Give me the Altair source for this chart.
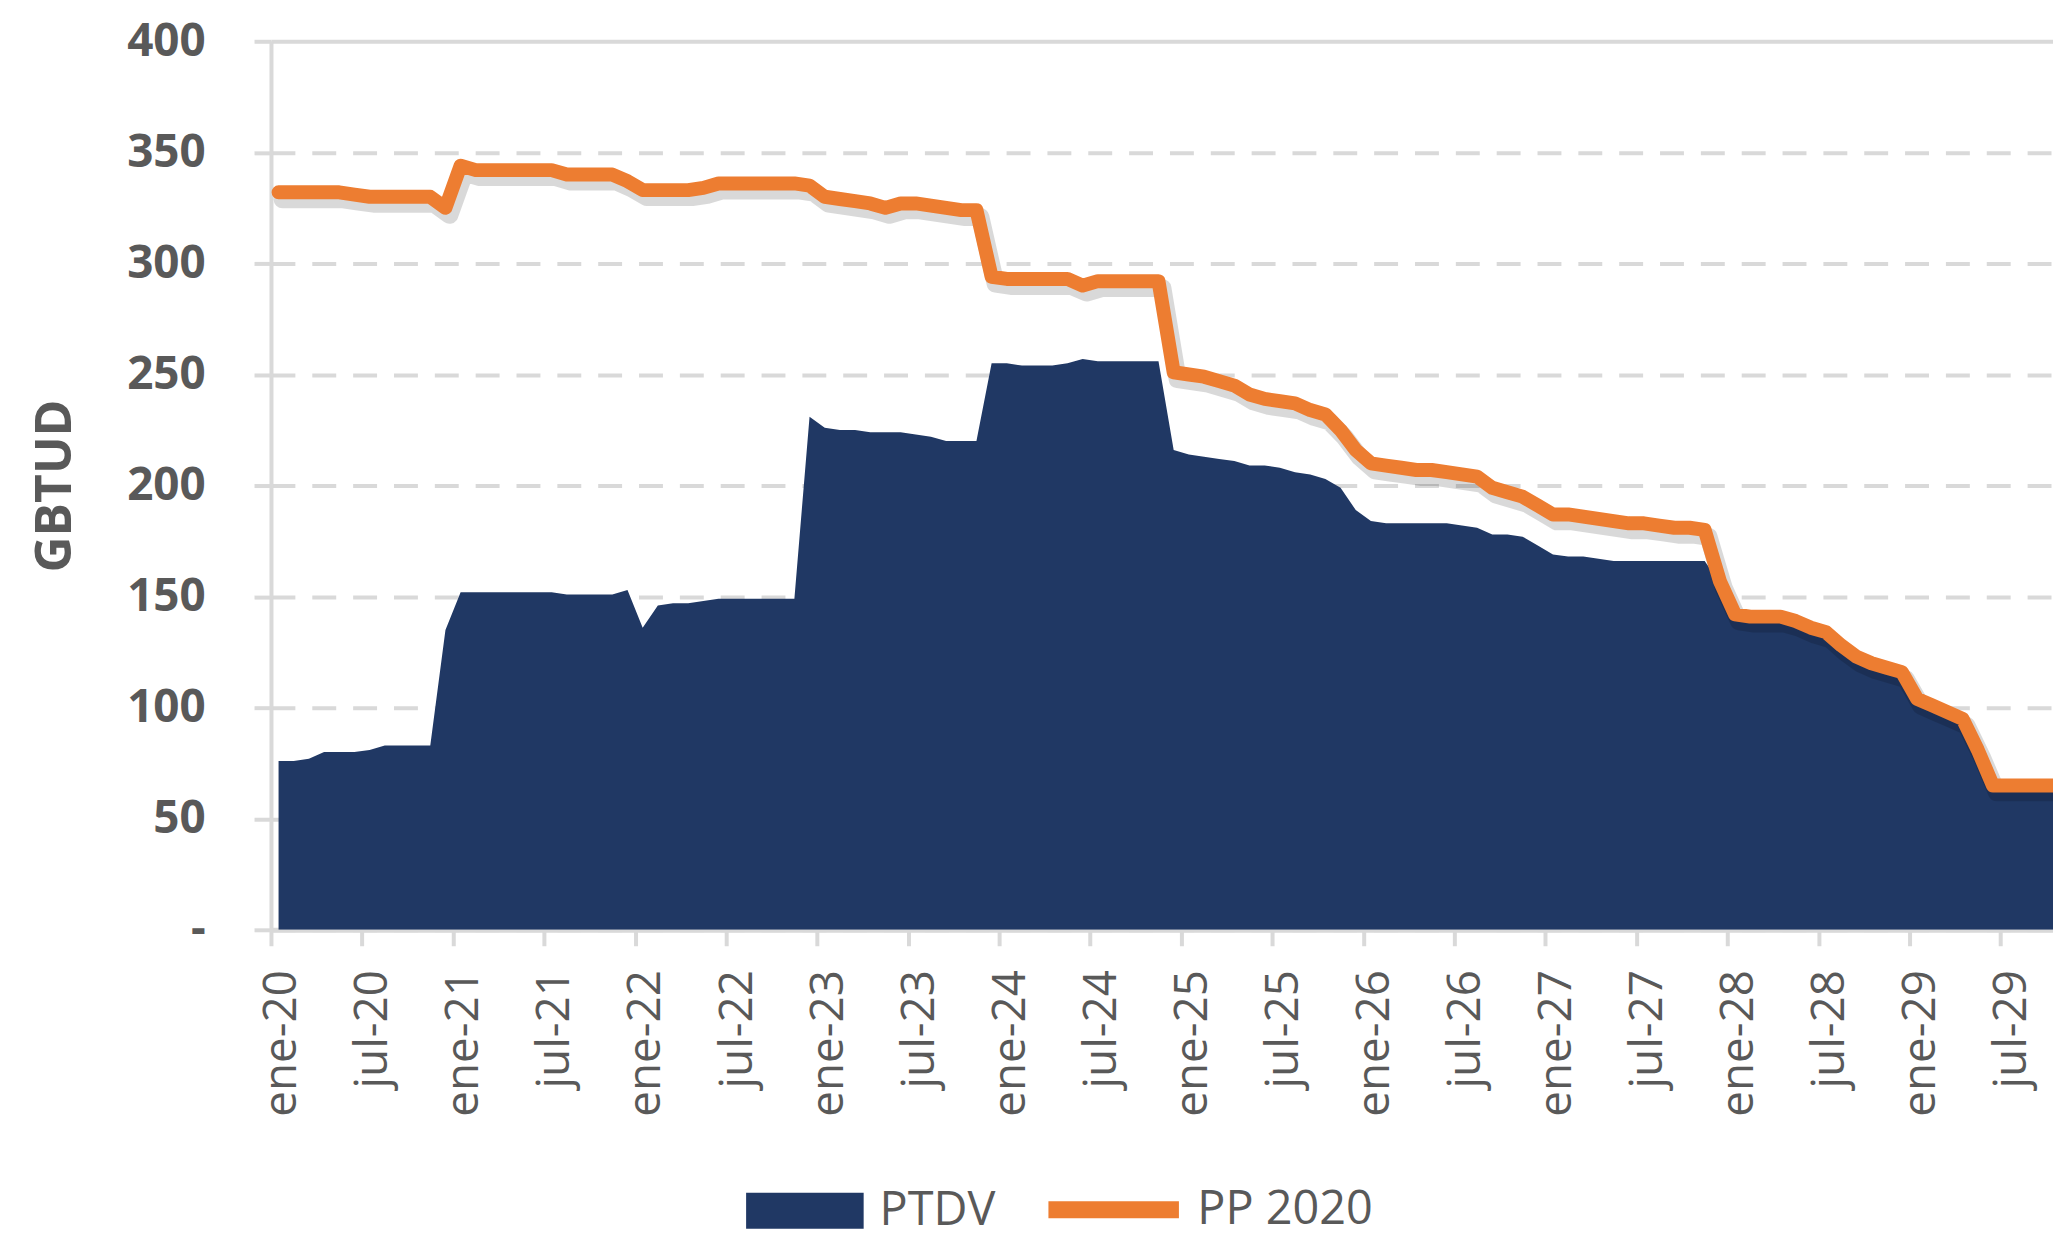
import json
import altair as alt
import pandas as pd

# ---- data (monthly, ene-20 ... oct-29) ----
pp2020 = [332, 332, 332, 332, 332,
          331, 330, 330, 330, 330, 330,
          325, 344,
          342, 342, 342, 342, 342, 342,
          340, 340, 340, 340, 337,
          333, 333, 333, 333, 334,
          336, 336, 336, 336, 336, 336,
          335,
          330, 329, 328, 327, 325, 327, 327, 326, 325, 324, 324,
          294, 293, 293, 293, 293, 293,
          290,
          292, 292, 292, 292, 292,
          251, 250, 249, 247, 245, 241, 239, 238, 237, 234, 232, 225, 216, 210, 209, 208,
          207, 207, 206, 205, 204, 199, 197, 195, 191, 187, 187, 186, 185, 184,
          183, 183, 182, 181, 181, 180,
          157, 142, 141, 141, 141, 139, 136, 134, 128, 123, 120, 118, 116,
          104, 101, 98, 95, 81, 65, 65, 65, 65, 65]

ptdv = [76, 76, 77, 80, 80, 80, 81, 83, 83, 83, 83,
        135, 152,
        152, 152, 152, 152, 152, 152,
        151, 151, 151, 151, 153,
        136, 146, 147, 147, 148,
        149, 149, 149, 149, 149, 149,
        231, 226, 225, 225, 224, 224, 224,
        223, 222, 220, 220, 220,
        255, 255, 254, 254, 254, 255, 257,
        256, 256, 256, 256, 256,
        216, 214, 213, 212, 211, 209, 209, 208, 206, 205, 203, 199, 189, 184,
        183, 183, 183, 183, 183, 182,
        181, 178, 178, 177, 173, 169, 168, 168, 167,
        166, 166, 166, 166, 166, 166, 166,
        156, 141, 140, 140, 140, 138, 135, 133, 127, 122, 119, 117, 115,
        103, 100, 97, 94, 80, 64, 64, 64, 64, 64]

tick_labels = ["ene-20", "jul-20", "ene-21", "jul-21", "ene-22", "jul-22",
               "ene-23", "jul-23", "ene-24", "jul-24", "ene-25", "jul-25",
               "ene-26", "jul-26", "ene-27", "jul-27", "ene-28", "jul-28",
               "ene-29", "jul-29"]
y_ticks = [0, 50, 100, 150, 200, 250, 300, 350, 400]
area_name, line_name = "PTDV", "PP 2020"
area_color, line_color = "#203864", "#ED7D31"

rows = []
for i, v in enumerate(ptdv):
    rows.append({"mes": i, "serie": area_name, "valor": v})
for i, v in enumerate(pp2020):
    rows.append({"mes": i, "serie": line_name, "valor": v})
df = pd.DataFrame(rows)

FONT = "Open Sans"
GRAY = "#595959"
LINEGRAY = "#D9D9D9"

label_expr = json.dumps(tick_labels) + "[round(datum.value/6)]"

x_enc = alt.X(
    "pos:Q",
    scale=alt.Scale(domain=[0, 117.46], nice=False, zero=False),
    axis=alt.Axis(
        values=[i * 6 for i in range(len(tick_labels))],
        labelExpr=label_expr,
        labelAngle=-90,
        labelAlign="right",
        labelBaseline="middle",
        labelOffset=11,
        labelPadding=24,
        labelFont=FONT,
        labelFontSize=46,
        labelColor=GRAY,
        grid=False,
        domainColor=LINEGRAY,
        domainWidth=5,
        tickColor=LINEGRAY,
        tickWidth=4,
        tickSize=16,
        title=None,
    ),
)

y_enc = alt.Y(
    "valor:Q",
    scale=alt.Scale(domain=[0, 400], nice=False),
    axis=alt.Axis(
        values=y_ticks,
        labelExpr="datum.value == 0 ? '-\u00a0\u00a0\u00a0' : datum.label",
        labelFont=FONT,
        labelFontSize=46,
        labelFontWeight="bold",
        labelColor=GRAY,
        labelPadding=49,
        tickSize=17,
        tickColor=LINEGRAY,
        tickWidth=4,
        domainColor=LINEGRAY,
        domainWidth=4,
        grid=True,
        gridColor=LINEGRAY,
        gridWidth=4,
        gridDash={"condition": {"test": "datum.value == 400", "value": []}, "value": [24, 17]},
        title="GBTUD",
        titleFont=FONT,
        titleFontSize=50,
        titleFontWeight="bold",
        titleColor=GRAY,
        titleX=-191,
        titleY=446,
        titleAngle=-90,
    ),
)

fill_enc = alt.Fill(
    "serie:N",
    scale=alt.Scale(domain=[area_name], range=[area_color]),
    legend=alt.Legend(
        title=None, orient="none", direction="horizontal",
        legendX=477, legendY=1115, padding=0,
        labelFont=FONT, labelFontSize=47, labelColor=GRAY, labelOffset=16,
        labelLimit=600,
        symbolType="M-1,-0.305L1,-0.305L1,0.305L-1,0.305Z",
        symbolSize=13924, symbolStrokeWidth=0, symbolOpacity=1,
    ),
)

stroke_enc = alt.Stroke(
    "serie:N",
    scale=alt.Scale(domain=[line_name], range=[line_color]),
    legend=alt.Legend(
        title=None, orient="none", direction="horizontal",
        legendX=772, legendY=1099, padding=0,
        labelFont=FONT, labelFontSize=47, labelColor=GRAY, labelOffset=10,
        labelLimit=600,
        symbolType="stroke", symbolSize=17161, symbolStrokeWidth=17,
        symbolOpacity=1,
    ),
)

base = alt.Chart(df).transform_calculate(pos="datum.mes + 0.5")

area = base.transform_filter(f"datum.serie == '{area_name}'").mark_area(clip=True).encode(
    x=x_enc, y=y_enc, fill=fill_enc
)

shadow = base.transform_filter(f"datum.serie == '{line_name}'").mark_line(
    clip=True, color="#000000", opacity=0.15, strokeWidth=18,
    xOffset=4, yOffset=7, strokeJoin="round", strokeCap="round"
).encode(x=x_enc, y=y_enc)

line = base.transform_filter(f"datum.serie == '{line_name}'").mark_line(
    clip=True, strokeWidth=14, strokeJoin="round", strokeCap="round"
).encode(x=x_enc, y=y_enc, stroke=stroke_enc)

chart = alt.layer(area, shadow, line).resolve_scale(fill="independent", stroke="independent").properties(
    width=1789,
    height=892,
    autosize=alt.AutoSizeParams(type="none"),
    padding={"left": 264, "top": 31, "right": 0, "bottom": 309},
).configure_view(stroke=None).configure(background="white")

chart.save("out.html", embed_options={"renderer": "svg", "actions": False})
